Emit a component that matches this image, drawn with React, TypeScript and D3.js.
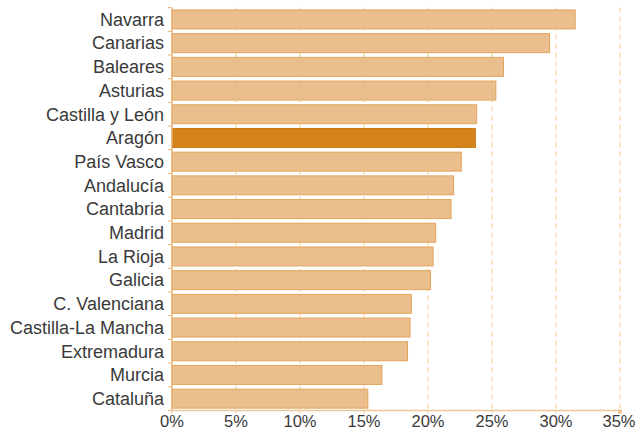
import React from "react";
import * as d3 from "d3";

const regions = [
  "Navarra",
  "Canarias",
  "Baleares",
  "Asturias",
  "Castilla y León",
  "Aragón",
  "País Vasco",
  "Andalucía",
  "Cantabria",
  "Madrid",
  "La Rioja",
  "Galicia",
  "C. Valenciana",
  "Castilla-La Mancha",
  "Extremadura",
  "Murcia",
  "Cataluña",
];
const values = [
  31.5, 29.5, 25.9, 25.3, 23.8, 23.7, 22.6, 22.0, 21.8, 20.6, 20.4, 20.2,
  18.7, 18.6, 18.4, 16.4, 15.3,
];
const highlight = "Aragón";
const xTicks = [0, 5, 10, 15, 20, 25, 30, 35];

const W = 638;
const H = 432;
const left = 172;
const right = 620;
const top = 7.6;
const bottom = 410.5;

export default function App() {
  const x = d3.scaleLinear().domain([0, 35]).range([left, right]);
  const y = d3
    .scaleBand<string>()
    .domain(regions)
    .range([top, bottom])
    .paddingInner(0.2)
    .paddingOuter(0.1);
  const step = y.step();
  const font = "'Liberation Sans', Arial, sans-serif";

  return (
    <svg
      width={W}
      height={H}
      style={{ position: "absolute", left: 0, top: 0, background: "#fff" }}
    >
      {/* dashed grid */}
      {xTicks.slice(1).map((t) => (
        <line
          key={t}
          x1={x(t)}
          x2={x(t)}
          y1={top}
          y2={bottom}
          stroke="#f5d3ab"
          strokeWidth={1.2}
          strokeDasharray="5,4"
        />
      ))}

      {/* bars */}
      {regions.map((r, i) => {
        const hi = r === highlight;
        return (
          <rect
            key={r}
            x={x(0)}
            y={y(r)!}
            width={x(values[i]) - x(0)}
            height={y.bandwidth()}
            fill={hi ? "#d4831b" : "#e9bb87"}
            fillOpacity={hi ? 1 : 0.95}
            stroke={hi ? "#cb7a18" : "#e2a45c"}
            strokeWidth={1}
          />
        );
      })}

      {/* y axis */}
      <line x1={left} x2={left} y1={top} y2={bottom} stroke="#eab57a" strokeWidth={1.5} />
      {regions.map((r, i) => {
        const yy = (y(r) as number) - (step * 0.2) / 2;
        return (
          <line key={"t" + i} x1={left - 4} x2={left} y1={yy} y2={yy} stroke="#eab57a" />
        );
      })}
      <line x1={left - 4} x2={left} y1={bottom} y2={bottom} stroke="#eab57a" />

      {/* x axis */}
      <line x1={left} x2={right} y1={bottom} y2={bottom} stroke="#efc796" strokeWidth={1.5} />
      <rect x={right - 2} y={bottom - 1} width={4} height={4} fill="#efc796" />
      {xTicks.map((t) => (
        <line
          key={"xt" + t}
          x1={x(t)}
          x2={x(t)}
          y1={bottom}
          y2={bottom + 3}
          stroke="#efc796"
        />
      ))}
      {xTicks.map((t) => (
        <text
          key={"xl" + t}
          x={t === 35 ? Math.min(x(t), W - 19) : x(t)}
          y={427}
          textAnchor="middle"
          fontFamily={font}
          fontSize={16.5}
          fill="#3a3a3a"
        >
          {t}%
        </text>
      ))}

      {/* category labels */}
      {regions.map((r) => (
        <text
          key={"l" + r}
          x={164}
          y={(y(r) as number) + y.bandwidth() / 2}
          dy="0.35em"
          textAnchor="end"
          fontFamily={font}
          fontSize={18}
          fill="#3a3a3a"
        >
          {r}
        </text>
      ))}
    </svg>
  );
}
